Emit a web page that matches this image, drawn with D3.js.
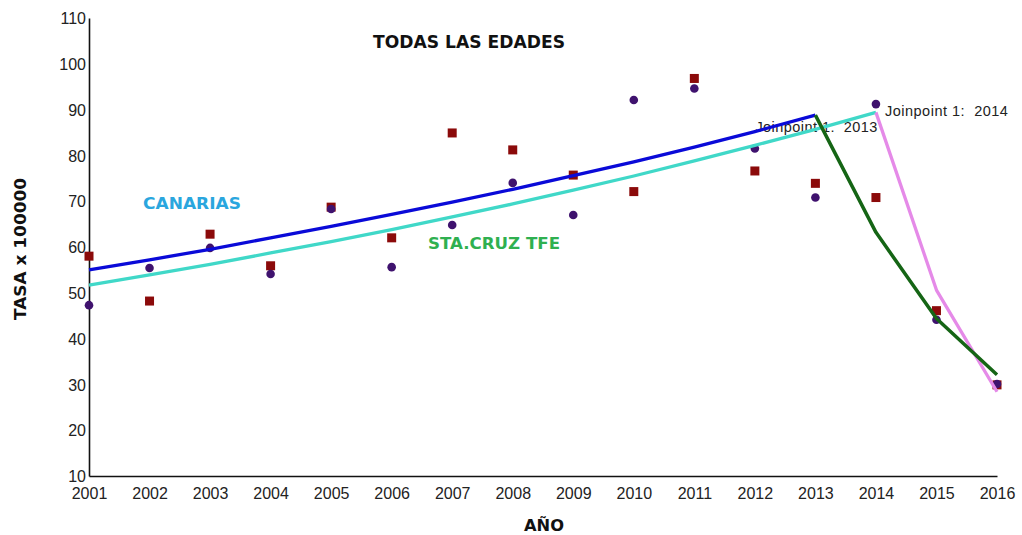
<!DOCTYPE html>
<html>
<head>
<meta charset="utf-8">
<script src="https://cdn.jsdelivr.net/npm/d3@7"></script>
<style>
  body { margin: 0; background: #fff; }
  svg { display: block; }
  .pre { white-space: pre; }
</style>
</head>
<body>
<svg id="chart" width="1022" height="535"></svg>
<script>
// Years on the horizontal axis
const years = [2001,2002,2003,2004,2005,2006,2007,2008,2009,2010,2011,2012,2013,2014,2015,2016];
const yTicks = [10,20,30,40,50,60,70,80,90,100,110];

// Observed rates (per 100000)
const observedSquares = [58.0,48.2,62.8,55.9,68.7,62.0,84.9,81.2,75.7,72.1,96.8,76.6,73.9,70.8,46.1,29.9];
const observedCircles = [47.3,55.4,59.8,54.1,68.3,55.6,64.8,74.0,67.0,92.1,94.6,81.5,70.8,91.2,44.1,30.1];

// Joinpoint fitted segments
const blueYears   = [2001,2002,2003,2004,2005,2006,2007,2008,2009,2010,2011,2012,2013];
const blueFit     = [55.0,57.2,59.5,62.0,64.5,67.1,69.8,72.6,75.6,78.6,81.8,85.2,88.8];
const greenYears  = [2013,2014,2015,2016];
const greenFit    = [88.8,63.2,44.4,32.1];
const cyanYears   = [2001,2002,2003,2004,2005,2006,2007,2008,2009,2010,2011,2012,2013,2014];
const cyanFit     = [51.7,53.9,56.2,58.7,61.2,63.8,66.6,69.4,72.4,75.5,78.8,82.2,85.7,89.4];
const violetYears = [2014,2015,2016];
const violetFit   = [89.4,50.6,28.4];

const svg = d3.select("#chart");
const margin = {left: 89, right: 25, top: 18, bottom: 59};
const W = 1022, H = 535;

const x = d3.scaleLinear().domain([2001, 2016]).range([margin.left, W - margin.right]);
const y = d3.scaleLinear().domain([10, 110]).range([H - margin.bottom, margin.top]);

// Axes
const xAxis = d3.axisBottom(x).tickValues(years).tickFormat(d3.format("d")).tickSize(0).tickPadding(12);
const yAxis = d3.axisLeft(y).tickValues(yTicks).tickSize(0).tickPadding(3);

const gx = svg.append("g").attr("transform", `translate(0,${y(10)})`).call(xAxis);
const gy = svg.append("g").attr("transform", `translate(${x(2001)},0)`).call(yAxis);
[gx, gy].forEach(g => {
  g.select(".domain").attr("stroke", "#111").attr("stroke-width", 1.6);
  g.selectAll("text").attr("font-family", "'Liberation Sans', Arial, sans-serif")
    .attr("font-size", 16).attr("fill", "#222");
});
gy.selectAll("text").attr("dy", "0.35em");

// Joinpoint labels (drawn beneath the fitted lines)
const jpFont = "'Liberation Sans', Arial, sans-serif";
svg.append("text").attr("class", "pre").attr("x", x(2013) - 60).attr("y", y(88.8) + 17)
  .attr("font-family", jpFont).attr("font-size", 14.5).attr("fill", "#222")
  .attr("textLength", 122).attr("lengthAdjust", "spacing")
  .text("Joinpoint 1:  2013");
svg.append("text").attr("class", "pre").attr("x", x(2014) + 9).attr("y", y(89.4) + 4)
  .attr("font-family", jpFont).attr("font-size", 14.5).attr("fill", "#222")
  .attr("textLength", 123).attr("lengthAdjust", "spacing")
  .text("Joinpoint 1:  2014");

// Observed markers
svg.append("g").selectAll("rect").data(years).join("rect")
  .attr("x", d => x(d) - 4.5)
  .attr("y", (d, i) => y(observedSquares[i]) - 4.5)
  .attr("width", 9).attr("height", 9)
  .attr("fill", "#8b0a0a");
svg.append("g").selectAll("circle").data(years).join("circle")
  .attr("cx", d => x(d))
  .attr("cy", (d, i) => y(observedCircles[i]))
  .attr("r", 4.3)
  .attr("fill", "#3f126e");

// Fitted lines
const line = d3.line().x(d => x(d[0])).y(d => y(d[1]));
function drawFit(xs, vs, color, width) {
  svg.append("path")
    .datum(xs.map((v, i) => [v, vs[i]]))
    .attr("d", line)
    .attr("fill", "none")
    .attr("stroke", color)
    .attr("stroke-width", width)
    .attr("stroke-linejoin", "round");
}
drawFit(blueYears, blueFit, "#0a0ad8", 3.3);
drawFit(cyanYears, cyanFit, "#40d8c8", 3.3);
drawFit(violetYears, violetFit, "#e58ae8", 3.3);
drawFit(greenYears, greenFit, "#156515", 3.5);

// Titles and series labels
const boldFont = "'DejaVu Sans', Verdana, sans-serif";
function boldLabel(px, py, txt, size, color, len) {
  return svg.append("text").attr("x", px).attr("y", py)
    .attr("font-family", boldFont).attr("font-weight", "bold").attr("font-size", size)
    .attr("fill", color)
    .attr("textLength", len).attr("lengthAdjust", "spacingAndGlyphs")
    .text(txt);
}
boldLabel(373, 47.5, "TODAS LAS EDADES", 17, "#111", 192);
boldLabel(143, 209, "CANARIAS", 16.3, "#2aa6de", 98);
boldLabel(428, 248.5, "STA.CRUZ TFE", 16.3, "#2fb050", 132);

// Axis titles
boldLabel(524, 530.5, "AÑO", 16, "#111", 40);
svg.append("text")
  .attr("transform", "translate(26,320) rotate(-90)")
  .attr("font-family", boldFont).attr("font-weight", "bold").attr("font-size", 15)
  .attr("textLength", 142).attr("lengthAdjust", "spacingAndGlyphs")
  .attr("fill", "#111").text("TASA x 100000");
</script>
</body>
</html>
